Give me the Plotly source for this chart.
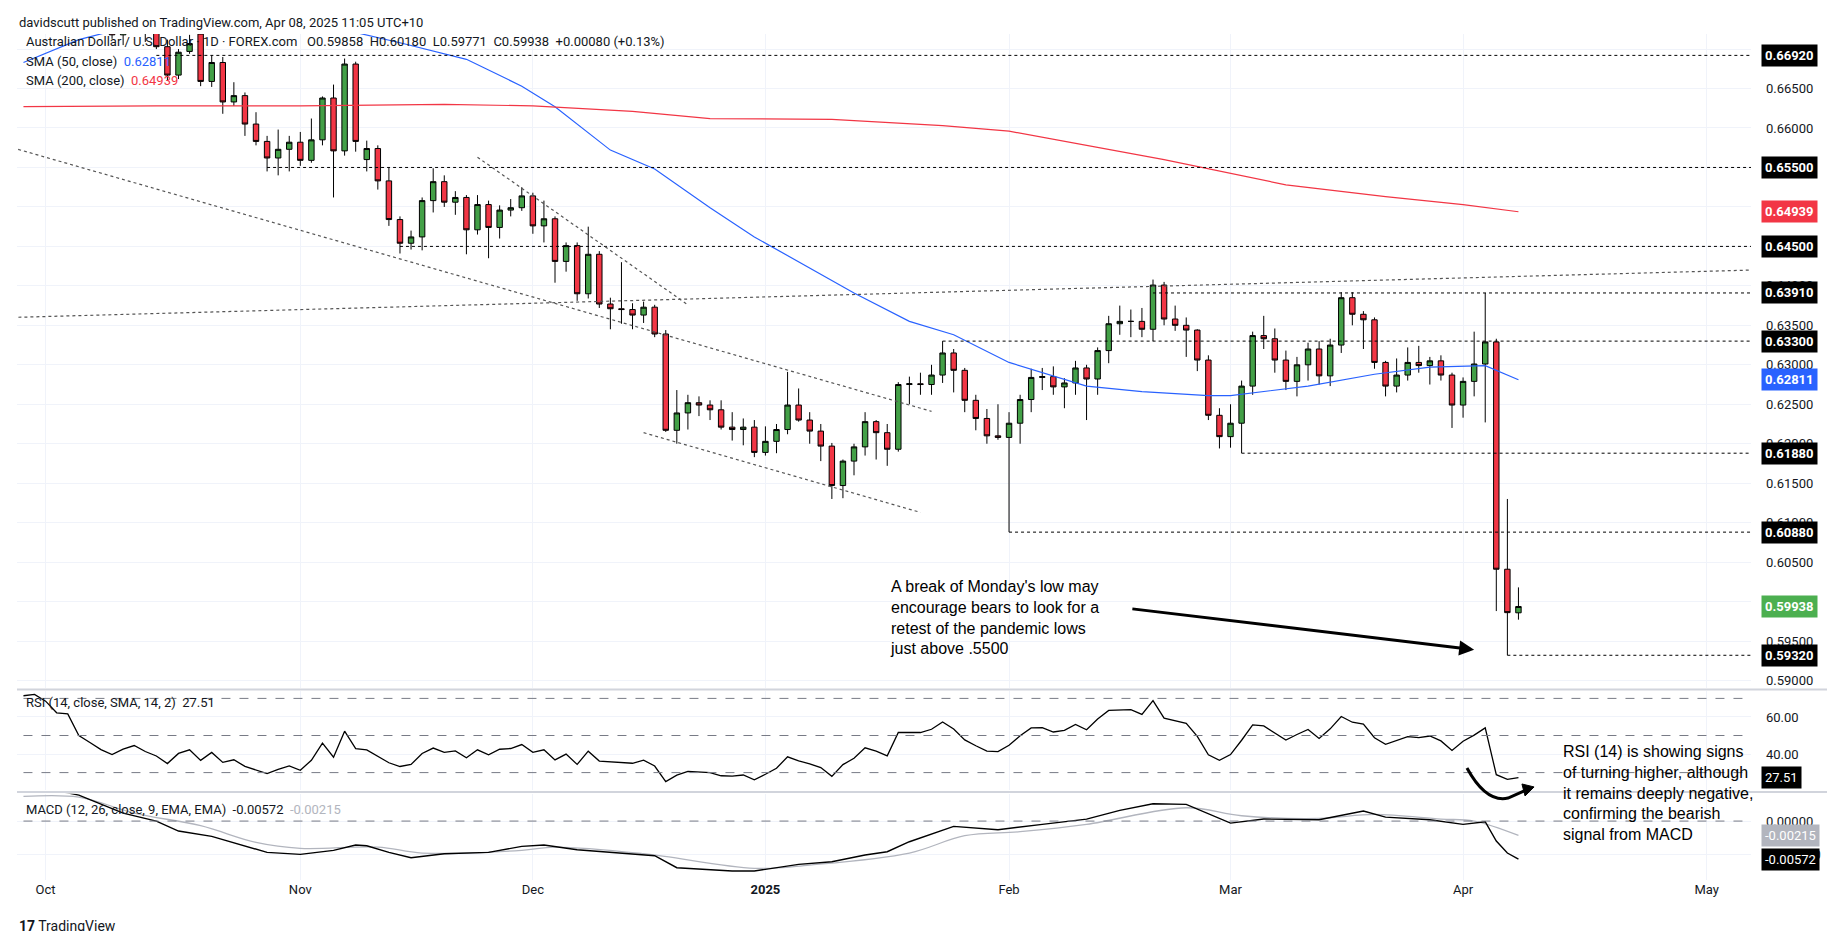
import numpy as np
import pandas as pd
import plotly.graph_objects as go
from plotly.subplots import make_subplots

# ---------------- datos ----------------
dias = pd.bdate_range("2024-09-27", "2025-04-08")
dias = dias[~dias.isin(pd.to_datetime(["2024-12-25", "2025-01-01"]))]

opens = [.6880, .6904,
    .6912, .6896, .6866, .6863, .6796, .6770, .6740, .6718, .6735, .6746, .6722, .6703, .6667, .6697, .6719, .6659, .6683, .6633, .6641, .6605, .6583, .6562, .6573,
    .6582, .6559, .6585, .6638, .6571, .6681, .6560, .6574, .6533, .6484, .6454, .6462, .6508, .6532, .6506, .6512, .6471, .6503, .6474, .6496, .6499,
    .6514, .6476, .6485, .6431, .6451, .6390, .6440, .6377, .6371, .6370, .6363, .6373, .6339, .6217, .6239, .6252, .6249, .6243, .6221, .6218, .6221,
    .6189, .6203, .6218, .6249, .6230, .6216, .6197, .6147, .6178, .6196, .6228, .6214, .6193, .6275, .6276, .6275, .6287, .6315, .6293, .6255, .6232, .6210,
    .6208, .6226, .6256, .6284, .6285, .6272, .6277, .6296, .6282, .6318, .6352, .6355, .6355, .6345, .6401, .6358, .6350, .6344, .6306, .6236,
    .6209, .6226, .6273, .6337, .6333, .6306, .6279, .6300, .6320, .6286, .6325, .6385, .6364, .6357, .6303, .6273, .6287, .6303, .6299, .6305, .6287,
    .6249, .6279, .6301, .6329, .6041, .59858]
highs = [.6937, .6942,
    .6925, .6900, .6880, .6872, .6810, .6780, .6748, .6742, .6755, .6752, .6730, .6712, .6700, .6718, .6725, .6692, .6690, .6658, .6645, .6620, .6590, .6598, .6590,
    .6595, .6612, .6640, .6655, .6688, .6684, .6584, .6578, .6550, .6488, .6470, .6512, .6549, .6540, .6520, .6515, .6515, .6508, .6502, .6510, .6525,
    .6518, .6508, .6488, .6455, .6455, .6475, .6444, .6385, .6430, .6378, .6380, .6376, .6344, .6268, .6262, .6260, .6255, .6255, .6240, .6232, .6230,
    .6222, .6225, .6291, .6270, .6240, .6225, .6201, .6180, .6200, .6240, .6230, .6225, .6278, .6285, .6290, .6300, .6330, .6320, .6296, .6262, .6244, .6250,
    .6240, .6262, .6295, .6296, .6298, .6283, .6305, .6300, .6322, .6362, .6375, .6370, .6372, .6408, .6405, .6375, .6360, .6345, .6312, .6245,
    .6250, .6280, .6342, .6362, .6346, .6318, .6310, .6328, .6330, .6333, .6392, .6392, .6368, .6360, .6305, .6308, .6322, .6324, .6310, .6312, .6290,
    .6284, .6342, .6391, .6333, .6130, .60180]
lows = [.6873, .6890,
    .6880, .6850, .6818, .6776, .6760, .6722, .6713, .6705, .6722, .6709, .6700, .6660, .6662, .6694, .6653, .6652, .6618, .6628, .6590, .6578, .6545, .6540, .6545,
    .6552, .6556, .6578, .6512, .6565, .6570, .6545, .6522, .6476, .6441, .6446, .6445, .6493, .6500, .6490, .6440, .6465, .6435, .6460, .6488, .6495,
    .6466, .6455, .6404, .6418, .6381, .6384, .6372, .6345, .6352, .6345, .6353, .6335, .6215, .6200, .6218, .6235, .6230, .6218, .6204, .6198, .6183,
    .6185, .6188, .6212, .6228, .6200, .6178, .6130, .6131, .6160, .6185, .6180, .6172, .6190, .6250, .6262, .6262, .6277, .6265, .6240, .6217, .6200, .6205,
    .6088, .6200, .6240, .6268, .6262, .6245, .6262, .6230, .6262, .6302, .6338, .6335, .6335, .6330, .6350, .6343, .6310, .6292, .6230, .6194,
    .6195, .6188, .6262, .6320, .6290, .6268, .6260, .6280, .6275, .6273, .6315, .6350, .6320, .6295, .6260, .6265, .6280, .6290, .6275, .6280, .6220,
    .6233, .6260, .6227, .5988, .5932, .59771]
closes = [.6904, .6912,
    .6896, .6866, .6863, .6796, .6770, .6740, .6718, .6735, .6746, .6722, .6703, .6667, .6696, .6707, .6659, .6683, .6633, .6641, .6605, .6583, .6562, .6573, .6582,
    .6559, .6585, .6638, .6571, .6681, .6583, .6574, .6533, .6484, .6454, .6462, .6508, .6532, .6506, .6512, .6471, .6503, .6474, .6496, .6499, .6514,
    .6476, .6485, .6431, .6451, .6390, .6440, .6377, .6371, .6370, .6363, .6373, .6339, .6217, .6239, .6252, .6249, .6243, .6221, .6218, .6221, .6189,
    .6203, .6218, .6249, .6230, .6216, .6197, .6147, .6178, .6196, .6228, .6214, .6193, .6275, .6276, .6275, .6287, .6315, .6293, .6255, .6232, .6210, .6208,
    .6226, .6256, .6284, .6285, .6272, .6277, .6296, .6282, .6318, .6352, .6355, .6355, .6345, .6401, .6358, .6350, .6344, .6306, .6236, .6209,
    .6226, .6273, .6337, .6333, .6306, .6279, .6300, .6320, .6286, .6325, .6385, .6364, .6357, .6303, .6273, .6287, .6303, .6299, .6305, .6287, .6249,
    .6279, .6301, .6329, .6041, .5986, .59938]

# cierres de agosto y septiembre antes de la ventana (solo para el RSI)
pre_closes = [.6510, .6505, .6490, .6545, .6530, .6580, .6585, .6575, .6615, .6605, .6660,
              .6690, .6725, .6730, .6740, .6705, .6795, .6785, .6790, .6788, .6765, .6765,
              .6760, .6714, .6705, .6745, .6670, .6685, .6668, .6681, .6710, .6712,
              .6745, .6755, .6760, .6810, .6807, .6815, .6895, .6860, .6895]

sma50_dates = ["2024-09-27", "2024-10-04", "2024-10-11", "2024-10-18", "2024-10-25", "2024-11-01",
               "2024-11-08", "2024-11-14", "2024-11-22", "2024-11-29", "2024-12-04", "2024-12-11",
               "2024-12-17", "2024-12-24", "2024-12-31", "2025-01-14", "2025-01-21", "2025-01-27",
               "2025-02-03", "2025-02-12", "2025-02-19", "2025-02-27", "2025-03-03", "2025-03-12",
               "2025-03-20", "2025-03-27", "2025-04-03", "2025-04-08"]
sma50 = [.6683, .6712, .6730, .6740, .6745, .6740, .6721, .6708, .6687, .6653, .6627, .6572,
         .6548, .6499, .6462, .6391, .6355, .6338, .6303, .6273, .6266, .6261, .6261, .6273,
         .6288, .6297, .6299, .62811]

sma200_dates = ["2024-09-27", "2024-10-15", "2024-11-01", "2024-11-20", "2024-12-02", "2024-12-13",
                "2024-12-24", "2025-01-10", "2025-01-24", "2025-02-03", "2025-02-21", "2025-03-10",
                "2025-03-21", "2025-04-01", "2025-04-08"]
sma200 = [.6627, .6628, .6628, .6630, .6628, .6621, .6612, .6611, .6603, .6596, .6560, .6528,
          .6513, .6503, .64939]

macd_dates = ["2024-09-27", "2024-10-01", "2024-10-04", "2024-10-10", "2024-10-15", "2024-10-17",
              "2024-10-22", "2024-10-24", "2024-10-29", "2024-11-01", "2024-11-06", "2024-11-08",
              "2024-11-11", "2024-11-13", "2024-11-15", "2024-11-20", "2024-11-26", "2024-11-29",
              "2024-12-03", "2024-12-06", "2024-12-13", "2024-12-17", "2024-12-19", "2024-12-27",
              "2024-12-31", "2025-01-07", "2025-01-10", "2025-01-15", "2025-01-17", "2025-01-21",
              "2025-01-27", "2025-01-31", "2025-02-06", "2025-02-12", "2025-02-17", "2025-02-20",
              "2025-02-25", "2025-03-03", "2025-03-06", "2025-03-13", "2025-03-19", "2025-03-21",
              "2025-03-27", "2025-04-01", "2025-04-03", "2025-04-04", "2025-04-07", "2025-04-08"]
macd = [.0050, .0049, .0039, .0012, .0000, -.0015, -.0023, -.0033, -.0047, -.0050, -.0044, -.0036,
        -.0037, -.0047, -.0055, -.0049, -.0047, -.0038, -.0036, -.0043, -.0050, -.0052, -.0070, -.0075,
        -.0075, -.0065, -.0061, -.0051, -.0046, -.0031, -.0008, -.0013, -.0005, .0003, .0016, .0026,
        .0025, -.0003, .0003, .0002, .0015, .0006, .0002, -.0005, -.0001, -.0030, -.0048, -.00572]

signal_dates = ["2024-09-27", "2024-10-04", "2024-10-11", "2024-10-21", "2024-10-28", "2024-11-01",
                "2024-11-12", "2024-11-18", "2024-11-29", "2024-12-04", "2024-12-16", "2024-12-31",
                "2025-01-08", "2025-01-21", "2025-01-28", "2025-02-04", "2025-02-12", "2025-02-25",
                "2025-03-04", "2025-03-13", "2025-03-20", "2025-03-28", "2025-04-02", "2025-04-08"]
signal = [.0037, .0036, .0012, -.0007, -.0032, -.0041, -.0039, -.0048, -.0044, -.0039, -.0049, -.0071,
          -.0066, -.0048, -.0022, -.0016, -.0005, .0020, .0008, .0004, .0010, .0003, .0000, -.00215]

# niveles horizontales (inicio, precio)
niveles = [("2024-10-15", .6692), ("2024-10-29", .6550), ("2024-11-14", .6450), ("2025-02-20", .6391),
           ("2025-01-24", .6330), ("2025-03-04", .6188), ("2025-02-03", .6088), ("2025-04-07", .5932)]
# lineas de tendencia (fecha0, precio0, fecha1, precio1)
tendencias = [("2024-09-26", .6575, "2025-01-23", .6241),
              ("2024-11-25", .6563, "2024-12-20", .6376),
              ("2024-09-26", .6360, "2025-05-07", .6420),
              ("2024-12-16", .6214, "2025-01-22", .6113)]

rsi_last = 27.51
x_fin = "2025-05-07"
meses = ["2024-10-01", "2024-11-01", "2024-12-02", "2025-01-02", "2025-02-03", "2025-03-03", "2025-04-01", "2025-05-01"]
meses_txt = ["Oct", "Nov", "Dec", "<b>2025</b>", "Feb", "Mar", "Apr", "May"]

# ---------------- RSI 14 (Wilder) ----------------
todo = pd.Series(pre_closes + closes)
delta = todo.diff()
ganancia = delta.clip(lower=0).ewm(alpha=1/14, adjust=False).mean()
perdida = (-delta.clip(upper=0)).ewm(alpha=1/14, adjust=False).mean()
rsi = (100 - 100 / (1 + ganancia / perdida)).iloc[len(pre_closes):].values

# ---------------- grafico ----------------
fig = make_subplots(rows=3, cols=1, shared_xaxes=True)
verde, rojo = "#43a047", "#f23645"
fig.add_trace(go.Candlestick(x=dias, open=opens, high=highs, low=lows, close=closes,
                             increasing=dict(fillcolor=verde, line=dict(color="black", width=1)),
                             decreasing=dict(fillcolor=rojo, line=dict(color="black", width=1)),
                             whiskerwidth=0, hoverinfo="skip"), row=1, col=1)
fig.add_trace(go.Scatter(x=sma50_dates, y=sma50, mode="lines", line=dict(color="#2962ff", width=1.2)), row=1, col=1)
fig.add_trace(go.Scatter(x=sma200_dates, y=sma200, mode="lines", line=dict(color="#f23645", width=1.2)), row=1, col=1)
fig.add_trace(go.Scatter(x=dias, y=rsi, mode="lines", line=dict(color="black", width=1.3)), row=2, col=1)
fig.add_trace(go.Scatter(x=signal_dates, y=signal, mode="lines", line=dict(color="#b2b5be", width=1.3), line_shape="spline"), row=3, col=1)
fig.add_trace(go.Scatter(x=macd_dates, y=macd, mode="lines", line=dict(color="black", width=1.4)), row=3, col=1)

for f, p in niveles:
    fig.add_shape(type="line", x0=f, x1=x_fin, y0=p, y1=p, xref="x", yref="y",
                  line=dict(color="black", width=1, dash="dot"))
for f0, p0, f1, p1 in tendencias:
    fig.add_shape(type="line", x0=f0, x1=f1, y0=p0, y1=p1, xref="x", yref="y",
                  line=dict(color="#555555", width=1.2, dash="dot"))
for v in [70, 50, 30]:
    fig.add_shape(type="line", x0=dias[0], x1=x_fin, y0=v, y1=v, xref="x2", yref="y2",
                  line=dict(color="#787b86", width=1, dash="dash"))
fig.add_shape(type="line", x0=dias[0], x1=x_fin, y0=0, y1=0, xref="x3", yref="y3",
              line=dict(color="#787b86", width=1, dash="dash"))
for yy in [0.268, 0.158]:
    fig.add_shape(type="line", x0=0, x1=1.06, y0=yy, y1=yy, xref="paper", yref="paper",
                  line=dict(color="#d1d4dc", width=2))

gris_grid = "#f0f3fa"
rb = [dict(bounds=["sat", "mon"]), dict(values=["2024-12-25", "2025-01-01"])]
fig.update_xaxes(range=["2024-09-26 10:00", x_fin], rangebreaks=rb, rangeslider_visible=False,
                 tickvals=meses, ticktext=meses_txt, showgrid=True, gridcolor=gris_grid,
                 showticklabels=False, zeroline=False, tickfont=dict(size=13, color="#131722"))
fig.update_xaxes(showticklabels=True, row=3, col=1)

eje = dict(side="right", showgrid=True, gridcolor=gris_grid, zeroline=False, ticks="",
           ticklabelstandoff=14, tickfont=dict(size=13, color="#131722"))
fig.update_layout(
    yaxis=dict(eje, domain=[0.270, 0.972], range=[0.5891, 0.6719], tickformat=".5f",
               tickvals=list(np.round(np.arange(0.590, 0.6701, 0.005), 3))),
    yaxis2=dict(eje, domain=[0.160, 0.266], range=[20.6, 73.8], tickvals=[40, 60], tickformat=".2f"),
    yaxis3=dict(eje, domain=[0.063, 0.156], range=[-0.0089, 0.0041], tickvals=[-0.005, 0], tickformat=".5f"),
)

# etiquetas a la derecha
def caja(y, texto, fondo, yref="y", color="white"):
    fig.add_annotation(x=1, xref="paper", y=y, yref=yref, text=texto, showarrow=False, xanchor="left",
                       xshift=10, bgcolor=fondo, borderpad=3, font=dict(size=13, color=color, family="Roboto"))

for f, p in niveles:
    caja(p, f"<b>{p:.5f}</b>", "black")
caja(sma200[-1], f"<b>{sma200[-1]:.5f}</b>", "#f23645")
caja(sma50[-1], f"<b>{sma50[-1]:.5f}</b>", "#2962ff")
caja(closes[-1], f"<b>{closes[-1]:.5f}</b>", "#4caf50")
caja(rsi_last, f"{rsi_last:.2f}", "black", yref="y2")
caja(signal[-1], f"{signal[-1]:.5f}", "#b2b5be", yref="y3")
caja(macd[-1], f"{macd[-1]:.5f}", "black", yref="y3")

def texto(x, y, t, size=13, color="#131722", fam="Roboto"):
    fig.add_annotation(x=x, y=y, xref="paper", yref="paper", text=t, showarrow=False, xanchor="left",
                       yanchor="middle", align="left", font=dict(size=size, color=color, family=fam))

texto(0.0, 1 - 14/931, "davidscutt published on TradingView.com, Apr 08, 2025 11:05 UTC+10")
texto(0.004, 1 - 33/931, f"Australian Dollar / U.S. Dollar · 1D · FOREX.com   O{opens[-1]:.5f}  H{highs[-1]:.5f}  "
      f"L{lows[-1]:.5f}  C{closes[-1]:.5f}  +0.00080 (+0.13%)")
texto(0.004, 1 - 53/931, f"SMA (50, close)  <span style='color:#2962ff'>{sma50[-1]:.5f}</span>")
texto(0.004, 1 - 73/931, f"SMA (200, close)  <span style='color:#f23645'>{sma200[-1]:.5f}</span>")
texto(0.004, 1 - 694/931, f"RSI (14, close, SMA, 14, 2)  {rsi_last:.2f}")
texto(0.004, 1 - 801/931, f"MACD (12, 26, close, 9, EMA, EMA)  {macd[-1]:.5f}  "
      f"<span style='color:#b2b5be'>{signal[-1]:.5f}</span>")
texto(0.0, 1 - 918/931, "<b>17</b> TradingView", size=14)

nota = "A break of Monday's low may<br>encourage bears to look for a<br>retest of the pandemic lows<br>just above .5500"
fig.add_annotation(x=0.5023, y=0.3899, xref="paper", yref="paper", text=nota, showarrow=False,
                   xanchor="left", yanchor="top", align="left",
                   font=dict(size=16, color="black", family="Liberation Sans"))
nota_rsi = ("RSI (14) is showing signs<br>of turning higher, although<br>it remains deeply negative,<br>"
            "confirming the bearish<br>signal from MACD")
fig.add_annotation(x=0.8904, y=0.2127, xref="paper", yref="paper", text=nota_rsi, showarrow=False,
                   xanchor="left", yanchor="top", align="left",
                   font=dict(size=16, color="black", family="Liberation Sans"))

# flecha recta hacia el minimo
fig.add_annotation(x="2025-04-02", y=0.5939, ax="2025-02-18", ay=0.5991, xref="x", yref="y",
                   axref="x", ayref="y", showarrow=True, arrowhead=2, arrowsize=1, arrowwidth=3,
                   arrowcolor="black", text="")
# flecha curva en el RSI
fig.add_shape(type="path", xref="paper", yref="paper",
              path="M 0.8362,0.1837 Q 0.8472,0.1461 0.8599,0.1514 L 0.8702,0.1600",
              line=dict(color="black", width=3))
fig.add_shape(type="path", xref="paper", yref="paper",
              path="M 0.8749,0.1633 L 0.8679,0.1665 L 0.8697,0.1536 Z",
              fillcolor="black", line=dict(color="black", width=1))

fig.update_layout(width=1835, height=931, margin=dict(l=9, r=92, t=0, b=0),
                  plot_bgcolor="white", paper_bgcolor="white", showlegend=False,
                  font=dict(family="Roboto", color="#131722"))
fig.write_html("out.html")
